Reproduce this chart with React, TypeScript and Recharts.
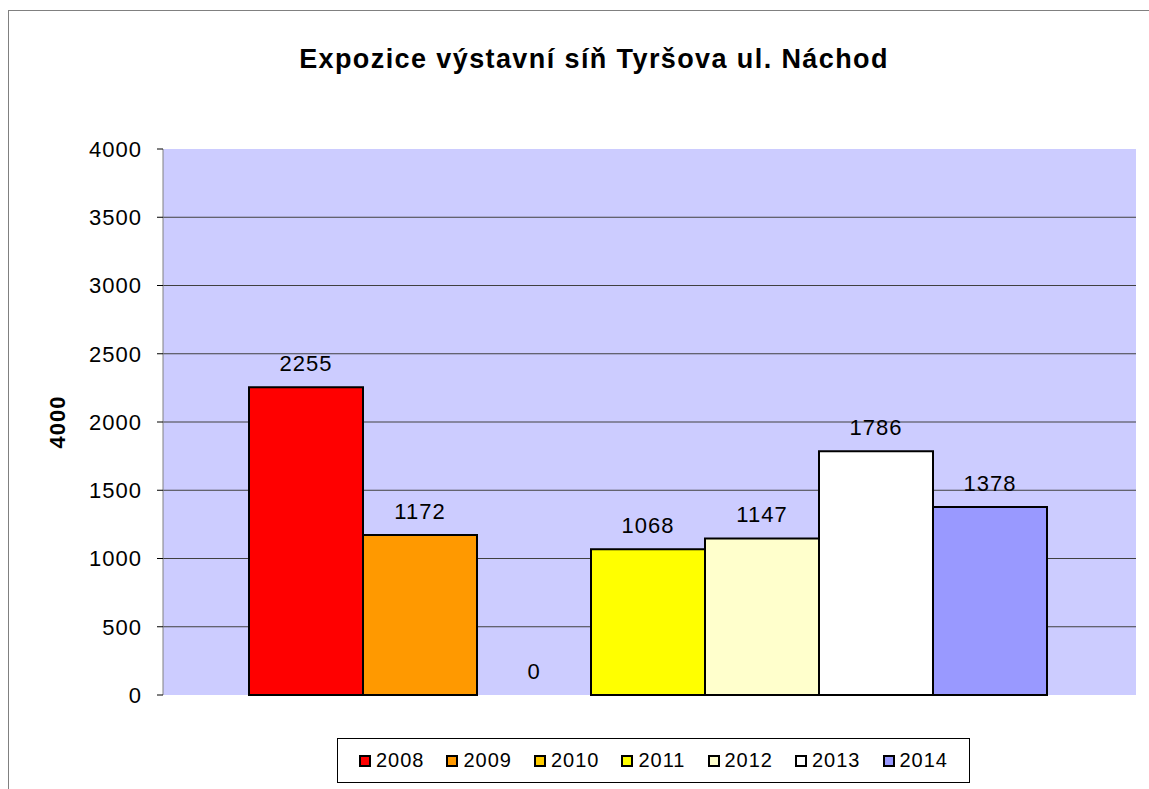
import { BarChart, Bar, YAxis, XAxis, CartesianGrid, LabelList, Label } from 'recharts';

// values
const years = ['2008', '2009', '2010', '2011', '2012', '2013', '2014'];
const visitors = [2255, 1172, 0, 1068, 1147, 1786, 1378];
const colors = ['#FF0000', '#FF9900', '#FFCC00', '#FFFF00', '#FFFFCC', '#FFFFFF', '#9999FF'];
const yTicks = [0, 500, 1000, 1500, 2000, 2500, 3000, 3500, 4000];
const gridValues = [500, 1000, 1500, 2000, 2500, 3000, 3500];

const row: Record<string, string | number> = { name: '' };
years.forEach((y, i) => {
  row['y' + y] = visitors[i];
});
const data = [row];

const font = 'Arial, "Liberation Sans", sans-serif';

export default function App() {
  return (
    <div style={{ position: 'absolute', left: 0, top: 0, width: 1149, height: 789, background: '#fff', overflow: 'hidden', fontFamily: font }}>
      {/* outer frame */}
      <div style={{ position: 'absolute', left: 8, top: 10, width: 1160, height: 800, border: '1px solid #808080', boxSizing: 'border-box' }} />
      <div style={{ position: 'absolute', left: 0, top: 44, width: 1188, textAlign: 'center', fontSize: 27, letterSpacing: 1.4, fontWeight: 'bold', color: '#000' }}>
        Expozice výstavní síň Tyršova ul. Náchod
      </div>
      <div style={{ position: 'absolute', left: 0, top: 0 }}>
        <BarChart
          width={1149}
          height={789}
          data={data}
          margin={{ top: 149, right: 13, left: 0, bottom: 94 }}
          barCategoryGap={86}
          barGap={0}
        >
          <CartesianGrid
            vertical={false}
            horizontalValues={gridValues}
            stroke="#404040"
            fill="#CCCCFF"
            fillOpacity={1}
          />
          <XAxis dataKey="name" hide />
          <YAxis
            width={163}
            domain={[0, 4000]}
            ticks={yTicks}
            interval={0}
            tickSize={6}
            tickMargin={15}
            tick={{ fill: '#000', fontSize: 22, fontFamily: font, letterSpacing: 1 }}
            tickLine={{ stroke: '#000' }}
            axisLine={{ stroke: '#808080' }}
          >
            <Label
              value="4000"
              angle={-90}
              position="insideLeft"
              offset={57}
              style={{ fontSize: 22, letterSpacing: 1, fontWeight: 'bold', fill: '#000', fontFamily: font, textAnchor: 'middle' }}
            />
          </YAxis>
          {years.map((y, i) => (
            <Bar
              key={y}
              dataKey={'y' + y}
              name={y}
              fill={colors[i]}
              stroke={visitors[i] === 0 ? 'none' : '#000'}
              strokeWidth={2}
              // keep a hairline rect for zero values so the "0" label still gets drawn
              minPointSize={(v: number) => (v === 0 ? 0.01 : 0)}
              isAnimationActive={false}
            >
              <LabelList
                dataKey={'y' + y}
                position="top"
                offset={16}
                formatter={(v: unknown) => String(v)}
                style={{ fill: '#000', fontSize: 22, letterSpacing: 1, fontFamily: font }}
              />
            </Bar>
          ))}
        </BarChart>
      </div>
      {/* legend */}
      <div
        style={{
          position: 'absolute',
          left: 337,
          top: 738,
          width: 633,
          height: 45,
          border: '1px solid #000',
          boxSizing: 'border-box',
          display: 'flex',
          alignItems: 'center',
          justifyContent: 'center',
          gap: 22,
          fontSize: 20,
          letterSpacing: 1,
          color: '#000',
          background: '#fff',
        }}
      >
        {years.map((y, i) => (
          <div key={y} style={{ display: 'flex', alignItems: 'center', gap: 5 }}>
            <span style={{ display: 'inline-block', width: 8, height: 8, background: colors[i], border: '2px solid #000' }} />
            <span>{y}</span>
          </div>
        ))}
      </div>
    </div>
  );
}
